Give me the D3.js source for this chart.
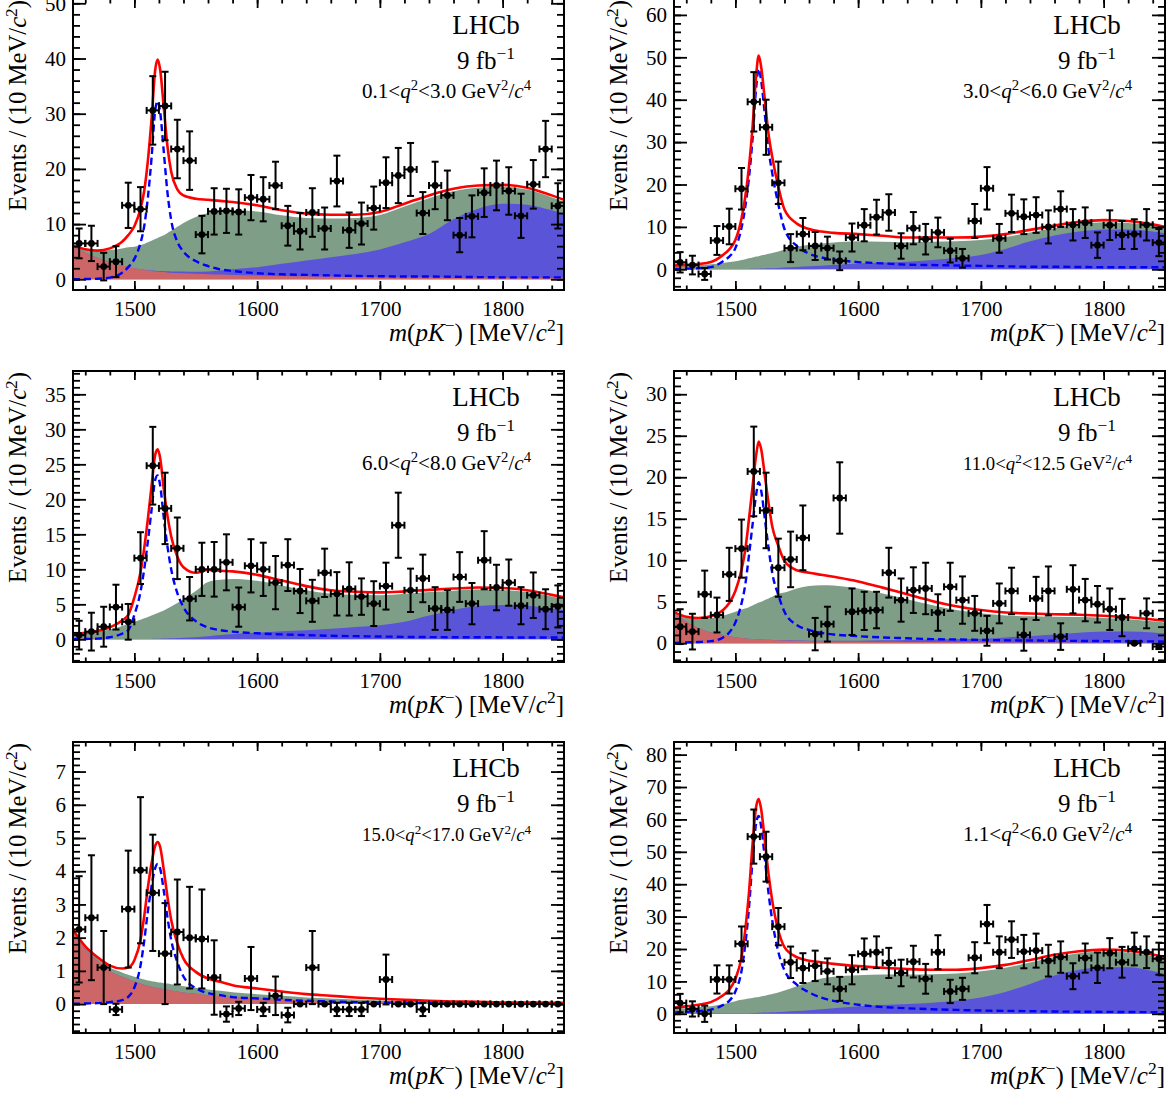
<!DOCTYPE html>
<html lang="en">
<head>
  <meta charset="UTF-8">
  <title>m(pK-) fits in q2 bins</title>
  <script src="https://d3js.org/d3.v7.min.js"></script>
  <style>
    body {
      margin: 0;
      background-color: white;
    }
    svg {
      display: block;
      font-family: "Liberation Serif", "DejaVu Serif", serif;
    }
    .tick line {
      stroke-width: 1.8px;
    }
  </style>
</head>
<body>
  <div id="chart"></div>

  <script>
    // bin centres of the 10 MeV histogram
    const binCenters = [1455, 1465, 1475, 1485, 1495, 1505, 1515, 1525, 1535, 1545,
      1555, 1565, 1575, 1585, 1595, 1605, 1615, 1625, 1635, 1645,
      1655, 1665, 1675, 1685, 1695, 1705, 1715, 1725, 1735, 1745,
      1755, 1765, 1775, 1785, 1795, 1805, 1815, 1825, 1835, 1845];
    const curveMass = [1450, 1460, 1470, 1480, 1490, 1495, 1500, 1505, 1508, 1511, 1514, 1517, 1519, 1521,
      1524, 1527, 1530, 1535, 1540, 1550, 1560, 1570, 1580, 1600, 1620, 1640, 1660, 1680,
      1700, 1720, 1740, 1760, 1780, 1800, 1820, 1840, 1850];
    const massTicks = [1500, 1600, 1700, 1800];
    const q2Low = ["0.1", "3.0", "6.0", "11.0", "15.0", "1.1"];
    const q2High = ["3.0", "6.0", "8.0", "12.5", "17.0", "6.0"];
    const yMajorStep = [10, 10, 5, 5, 1, 10];
    const yMinorStep = [2, 2, 1, 1, 0.2, 2];

    // panel 1: 0.1 < q2 < 3.0
    const p1Counts = [6.5, 6.5, 2.3, 3.2, 13.4, 12.7, 30.6, 31.4, 23.6, 21.5, 8.1, 12.3, 12.4, 12.2, 14.8, 14.5, 17.0, 9.7, 8.7, 12.1,
      9.2, 17.8, 8.9, 10.1, 12.9, 17.5, 18.8, 19.9, 12.0, 17.0, 15.2, 8.0, 11.4, 15.7, 17.0, 16.0, 11.5, 17.2, 23.6, 13.3];
    const p1Errors = [2.7, 3.2, 2.5, 2.8, 4.1, 4.0, 6.2, 6.2, 5.3, 5.3, 3.4, 4.2, 4.0, 4.1, 4.1, 4.0, 4.3, 3.6, 3.3, 4.4,
      3.8, 4.6, 3.2, 3.8, 3.9, 4.6, 5.0, 4.8, 3.8, 4.3, 4.5, 3.1, 3.8, 4.4, 4.5, 4.3, 4.0, 4.4, 5.1, 4.1];
    const p1RedTop = [5.9, 4.8, 3.9, 3.1, 2.5, 2.2, 2.0, 1.8, 1.7, 1.6, 1.5, 1.45, 1.4, 1.35, 1.3, 1.25, 1.2, 1.15, 1.1, 1.0,
      0.9, 0.85, 0.8, 0.7, 0.6, 0.55, 0.5, 0.45, 0.4, 0.35, 0.35, 0.3, 0.3, 0.3, 0.25, 0.25, 0.25];
    const p1BlueTop = [5.9, 4.8, 3.9, 3.1, 2.5, 2.2, 2.0, 1.8, 1.72, 1.65, 1.58, 1.55, 1.52, 1.49, 1.47, 1.45, 1.42, 1.4, 1.4, 1.35,
      1.4, 1.6, 1.8, 2.2, 2.8, 3.4, 4.0, 4.6, 5.4, 6.7, 8.2, 10.9, 12.8, 13.7, 13.5, 12.5, 11.9];
    const p1GreenTop = [6.1, 5.4, 5.1, 5.3, 5.6, 5.8, 5.9, 6.2, 6.4, 6.7, 7.0, 7.3, 7.5, 7.7, 8.0, 8.4, 8.8, 9.5, 10.2, 11.3,
      12.0, 12.4, 12.5, 12.3, 11.6, 11.1, 11.0, 11.1, 11.65, 13.2, 14.7, 15.95, 16.6, 16.75, 16.25, 14.85, 14.05];
    const p1Signal = [0.0, 0.05, 0.1, 0.3, 1.2, 2.2, 3.7, 6.6, 9.6, 14.8, 22.0, 30.7, 32.3, 30.3, 23.0, 15.6, 10.7, 6.8, 5.0, 3.3,
      2.4, 1.8, 1.5, 1.1, 0.9, 0.8, 0.7, 0.6, 0.55, 0.5, 0.5, 0.45, 0.4, 0.35, 0.35, 0.35, 0.35];

    // panel 2: 3.0 < q2 < 6.0
    const p2Counts = [1.65, 1.0, -1.1, 6.8, 10.1, 19.0, 39.5, 33.5, 20.4, 5.0, 8.3, 5.5, 5.0, 2.0, 7.5, 10.4, 12.3, 13.4, 5.5, 9.7,
      7.1, 8.7, 4.4, 2.6, 11.4, 19.1, 7.3, 13.2, 12.4, 12.8, 10.0, 14.2, 10.5, 11.0, 5.7, 10.4, 8.1, 8.3, 10.5, 6.3];
    const p2Errors = [2.4, 2.2, 1.4, 3.4, 4.2, 4.9, 7.0, 6.5, 5.0, 3.3, 3.8, 3.3, 2.7, 2.2, 3.3, 3.8, 4.1, 4.3, 3.0, 3.8,
      3.6, 3.5, 2.8, 2.2, 4.0, 5.0, 3.4, 4.4, 4.1, 4.2, 3.9, 4.2, 3.7, 3.6, 3.0, 3.5, 3.3, 3.5, 3.7, 3.2];
    const p2RedTop = [0.15, 0.13, 0.11, 0.1, 0.09, 0.08, 0.08, 0.07, 0.07, 0.07, 0.06, 0.06, 0.06, 0.06, 0.06, 0.06, 0.05, 0.05, 0.05, 0.05,
      0.05, 0.04, 0.04, 0.04, 0.04, 0.03, 0.03, 0.03, 0.03, 0.03, 0.03, 0.02, 0.02, 0.02, 0.02, 0.02, 0.02];
    const p2BlueTop = [0.15, 0.13, 0.11, 0.1, 0.09, 0.08, 0.08, 0.08, 0.09, 0.1, 0.12, 0.14, 0.16, 0.18, 0.2, 0.23, 0.26, 0.32, 0.4, 0.55,
      0.7, 0.85, 1.0, 1.35, 1.6, 1.8, 2.2, 2.7, 3.4, 4.8, 6.6, 8.0, 8.9, 9.4, 9.4, 8.9, 8.5];
    const p2GreenTop = [0.8, 0.9, 1.0, 1.2, 1.5, 1.7, 1.9, 2.2, 2.4, 2.6, 2.8, 3.0, 3.1, 3.25, 3.45, 3.65, 3.85, 4.2, 4.6, 5.3,
      5.8, 6.1, 6.3, 6.6, 6.5, 6.4, 6.5, 6.6, 6.9, 7.6, 8.7, 9.7, 10.65, 11.1, 10.9, 10.1, 9.5];
    const p2Signal = [0.1, 0.15, 0.25, 0.5, 1.9, 3.0, 5.0, 9.8, 14.6, 21.4, 30.8, 43.0, 47.3, 44.5, 36.5, 28.3, 22.7, 15.3, 9.5, 5.5,
      3.7, 2.8, 2.3, 1.7, 1.4, 1.1, 1.0, 0.9, 0.8, 0.7, 0.6, 0.6, 0.55, 0.5, 0.5, 0.5, 0.5];

    // panel 3: 6.0 < q2 < 8.0
    const p3Counts = [0.6, 1.1, 1.8, 4.6, 2.5, 11.6, 24.8, 18.7, 13.0, 5.8, 10.0, 10.0, 11.0, 4.6, 10.5, 10.0, 8.1, 10.6, 6.9, 5.5,
      9.5, 6.5, 7.2, 6.1, 5.1, 7.6, 16.3, 7.0, 8.7, 4.4, 4.2, 8.9, 5.1, 11.3, 7.4, 8.1, 4.8, 6.3, 4.3, 4.7];
    const p3Errors = [2.05, 2.7, 2.85, 3.2, 2.55, 3.7, 5.55, 5.1, 4.4, 3.1, 3.8, 3.9, 4.0, 2.8, 3.8, 3.8, 3.8, 3.7, 3.15, 3.0,
      3.45, 3.1, 3.8, 2.6, 3.2, 3.35, 4.65, 3.1, 3.4, 3.05, 2.85, 3.55, 2.95, 4.15, 3.25, 3.3, 2.65, 3.25, 2.85, 3.0];
    const p3RedTop = [0.1, 0.08, 0.07, 0.06, 0.05, 0.05, 0.05, 0.04, 0.04, 0.04, 0.04, 0.04, 0.04, 0.04, 0.03, 0.03, 0.03, 0.03, 0.03, 0.03,
      0.03, 0.02, 0.02, 0.02, 0.02, 0.02, 0.02, 0.02, 0.02, 0.02, 0.02, 0.02, 0.02, 0.02, 0.02, 0.02, 0.02];
    const p3BlueTop = [0.1, 0.08, 0.07, 0.06, 0.05, 0.05, 0.05, 0.05, 0.05, 0.05, 0.06, 0.07, 0.08, 0.09, 0.1, 0.12, 0.14, 0.18, 0.22, 0.3,
      0.45, 0.6, 0.75, 0.95, 1.15, 1.3, 1.5, 1.75, 2.0, 2.5, 3.4, 4.2, 4.75, 4.9, 4.8, 4.4, 4.2];
    const p3GreenTop = [0.7, 0.9, 1.1, 1.4, 1.9, 2.2, 2.5, 2.8, 3.0, 3.2, 3.4, 3.6, 3.75, 3.9, 4.1, 4.4, 4.7, 5.2, 5.7, 6.9,
      8.2, 8.5, 8.6, 8.35, 7.7, 7.0, 6.5, 6.35, 6.3, 6.5, 6.75, 6.95, 7.1, 7.05, 6.75, 6.1, 5.75];
    const p3Signal = [0.02, 0.05, 0.1, 0.3, 0.8, 1.3, 3.5, 6.8, 10.0, 14.0, 18.5, 22.8, 23.4, 22.0, 17.3, 13.2, 10.0, 6.6, 4.6, 2.6,
      1.7, 1.3, 1.1, 0.86, 0.7, 0.6, 0.5, 0.45, 0.4, 0.35, 0.32, 0.3, 0.3, 0.28, 0.26, 0.25, 0.25];

    // panel 4: 11.0 < q2 < 12.5
    const p4Counts = [2.0, 1.4, 5.9, 3.4, 8.3, 11.4, 20.7, 16.0, 9.1, 10.1, 12.7, 1.1, 2.3, 17.5, 3.8, 3.9, 4.0, 8.5, 5.2, 6.4,
      6.6, 3.7, 6.8, 5.2, 3.6, 1.5, 4.8, 6.3, 1.0, 5.4, 6.3, 0.8, 6.5, 5.2, 4.7, 4.1, 3.1, 0.0, 3.6, -0.4];
    const p4Errors = [2.1, 2.15, 2.85, 2.1, 3.2, 3.5, 5.4, 4.55, 3.5, 3.35, 3.9, 1.95, 2.1, 4.3, 2.8, 2.3, 2.2, 3.0, 2.6, 2.75,
      3.1, 2.2, 2.9, 2.85, 2.1, 1.8, 2.4, 2.8, 1.9, 2.6, 2.95, 1.6, 2.9, 2.55, 2.2, 2.5, 2.25, 0.1, 1.8, 0.3];
    const p4RedTop = [3.6, 2.6, 1.8, 1.3, 1.0, 0.85, 0.72, 0.63, 0.58, 0.54, 0.5, 0.48, 0.46, 0.45, 0.43, 0.41, 0.39, 0.36, 0.33, 0.3,
      0.27, 0.24, 0.22, 0.2, 0.17, 0.15, 0.14, 0.13, 0.12, 0.1, 0.09, 0.08, 0.07, 0.06, 0.06, 0.05, 0.05];
    const p4BlueTop = [3.6, 2.6, 1.8, 1.3, 1.0, 0.85, 0.72, 0.63, 0.58, 0.54, 0.5, 0.48, 0.46, 0.45, 0.43, 0.41, 0.39, 0.36, 0.35, 0.32,
      0.3, 0.29, 0.29, 0.3, 0.35, 0.4, 0.45, 0.5, 0.55, 0.7, 0.85, 1.05, 1.25, 1.4, 1.4, 1.3, 1.2];
    const p4GreenTop = [3.7, 3.1, 2.9, 3.0, 3.3, 3.55, 3.8, 4.05, 4.2, 4.35, 4.55, 4.75, 4.9, 5.0, 5.2, 5.4, 5.6, 5.95, 6.1, 6.6,
      6.9, 7.0, 6.95, 6.6, 6.0, 5.3, 4.6, 4.0, 3.6, 3.35, 3.25, 3.2, 3.15, 3.05, 2.9, 2.65, 2.5];
    const p4Signal = [0.05, 0.1, 0.15, 0.25, 0.7, 1.3, 2.5, 4.8, 7.0, 10.5, 14.3, 18.0, 19.4, 18.4, 15.0, 11.5, 8.5, 5.8, 3.8, 2.2,
      1.6, 1.25, 1.05, 0.85, 0.7, 0.6, 0.5, 0.45, 0.4, 0.35, 0.33, 0.3, 0.28, 0.26, 0.24, 0.22, 0.2];

    // panel 5: 15.0 < q2 < 17.0
    const p5Counts = [2.25, 2.6, 1.1, -0.16, 2.86, 4.03, 3.35, 1.52, 2.17, 2.0, 1.96, 0.8, -0.3, -0.13, 0.77, -0.16, 0.25, -0.33, 0.0, 1.1,
      0.0, -0.16, -0.16, -0.16, 0.0, 0.74, 0.0, 0.0, -0.16, 0.0, 0.0, 0.0, 0.0, 0.0, 0.0, 0.0, 0.0, 0.0, 0.0, 0.0];
    const p5Errors = [1.6, 1.88, 1.1, 0.17, 1.76, 2.2, 1.75, 1.52, 1.58, 1.53, 1.49, 1.12, 0.23, 0.2, 0.95, 0.2, 0.58, 0.22, 0, 1.1,
      0, 0.2, 0.2, 0.2, 0, 0.75, 0, 0, 0.2, 0, 0, 0, 0, 0, 0, 0, 0, 0, 0, 0];
    const p5RedTop = [2.15, 1.65, 1.3, 1.0, 0.82, 0.75, 0.68, 0.62, 0.58, 0.55, 0.52, 0.5, 0.48, 0.47, 0.45, 0.43, 0.41, 0.38, 0.35, 0.31,
      0.27, 0.24, 0.21, 0.17, 0.14, 0.11, 0.09, 0.08, 0.06, 0.05, 0.04, 0.03, 0.03, 0.02, 0.02, 0.02, 0.02];
    const p5BlueTop = [2.15, 1.65, 1.3, 1.0, 0.82, 0.75, 0.68, 0.62, 0.58, 0.55, 0.52, 0.5, 0.48, 0.47, 0.45, 0.43, 0.41, 0.38, 0.35, 0.31,
      0.27, 0.24, 0.21, 0.17, 0.14, 0.11, 0.09, 0.08, 0.06, 0.05, 0.04, 0.03, 0.03, 0.02, 0.02, 0.02, 0.02];
    const p5GreenTop = [2.22, 1.72, 1.38, 1.1, 0.95, 0.88, 0.82, 0.77, 0.74, 0.71, 0.69, 0.67, 0.66, 0.65, 0.63, 0.62, 0.6, 0.57, 0.54, 0.49,
      0.44, 0.4, 0.36, 0.3, 0.25, 0.2, 0.17, 0.14, 0.11, 0.09, 0.07, 0.06, 0.05, 0.04, 0.04, 0.03, 0.03];
    const p5Signal = [0.01, 0.02, 0.03, 0.06, 0.12, 0.22, 0.5, 1.16, 1.9, 2.8, 3.55, 4.1, 4.22, 4.08, 3.4, 2.6, 1.93, 1.26, 0.83, 0.48,
      0.33, 0.27, 0.21, 0.17, 0.13, 0.1, 0.08, 0.06, 0.05, 0.04, 0.03, 0.02, 0.02, 0.01, 0.01, 0.01, 0.01];

    // panel 6: 1.1 < q2 < 6.0
    const p6Counts = [3.3, 1.5, 0.0, 10.6, 10.6, 21.6, 54.7, 48.5, 26.9, 15.9, 14.1, 14.8, 13.1, 7.7, 13.6, 18.5, 19.0, 15.7, 12.6, 16.1,
      10.8, 19.0, 6.9, 7.7, 17.3, 27.7, 19.0, 22.9, 19.2, 19.5, 16.4, 17.5, 11.6, 17.2, 14.2, 18.7, 15.9, 20.0, 19.0, 17.0];
    const p6Errors = [2.85, 2.35, 2.5, 4.35, 4.35, 5.35, 8.35, 7.7, 5.75, 4.85, 4.6, 4.7, 4.0, 3.7, 4.5, 4.75, 4.9, 4.65, 4.1, 4.9,
      4.6, 5.25, 3.6, 3.4, 4.8, 5.9, 4.9, 5.65, 5.15, 5.25, 4.9, 4.85, 4.0, 4.5, 4.7, 4.65, 4.75, 5.05, 4.9, 4.95];
    const p6RedTop = [0.4, 0.32, 0.26, 0.21, 0.17, 0.16, 0.15, 0.14, 0.13, 0.13, 0.12, 0.12, 0.12, 0.11, 0.11, 0.11, 0.1, 0.1, 0.1, 0.09,
      0.09, 0.08, 0.08, 0.07, 0.07, 0.06, 0.06, 0.06, 0.05, 0.05, 0.05, 0.05, 0.05, 0.04, 0.04, 0.04, 0.04];
    const p6BlueTop = [0.4, 0.32, 0.26, 0.21, 0.17, 0.16, 0.15, 0.15, 0.16, 0.18, 0.22, 0.26, 0.3, 0.33, 0.38, 0.43, 0.48, 0.57, 0.66, 0.85,
      1.1, 1.4, 1.7, 2.3, 2.7, 3.0, 3.4, 4.0, 5.0, 6.7, 9.2, 11.8, 13.6, 14.4, 14.4, 13.2, 12.3];
    const p6GreenTop = [1.5, 1.7, 2.0, 2.3, 3.0, 3.4, 3.9, 4.3, 4.5, 4.7, 4.9, 5.1, 5.2, 5.35, 5.6, 5.85, 6.1, 6.6, 7.2, 8.5,
      9.8, 10.9, 11.4, 11.9, 12.1, 12.1, 12.2, 12.4, 13.1, 14.2, 15.8, 17.5, 18.65, 19.2, 18.95, 17.8, 17.0];
    const p6Signal = [0.35, 0.6, 0.8, 1.3, 2.7, 4.0, 6.9, 13.2, 21.2, 32.3, 47.5, 59.0, 61.1, 57.8, 47.9, 37.3, 28.9, 19.1, 13.4, 9.0,
      6.6, 5.0, 4.0, 2.8, 2.1, 1.7, 1.4, 1.2, 1.0, 0.9, 0.8, 0.7, 0.65, 0.6, 0.55, 0.5, 0.5];

    const panels = [
      { counts: p1Counts, errors: p1Errors, red: p1RedTop, blue: p1BlueTop, green: p1GreenTop, signal: p1Signal },
      { counts: p2Counts, errors: p2Errors, red: p2RedTop, blue: p2BlueTop, green: p2GreenTop, signal: p2Signal },
      { counts: p3Counts, errors: p3Errors, red: p3RedTop, blue: p3BlueTop, green: p3GreenTop, signal: p3Signal },
      { counts: p4Counts, errors: p4Errors, red: p4RedTop, blue: p4BlueTop, green: p4GreenTop, signal: p4Signal },
      { counts: p5Counts, errors: p5Errors, red: p5RedTop, blue: p5BlueTop, green: p5GreenTop, signal: p5Signal },
      { counts: p6Counts, errors: p6Errors, red: p6RedTop, blue: p6BlueTop, green: p6GreenTop, signal: p6Signal }
    ];

    // layout (pixels) and axis ranges
    const width = 1173, height = 1094;
    const colLeft = [73, 674], rowTop = [-1, 371, 742];
    const frameW = 491, frameH = 291;
    const yDomains = [[-1.94, 50.78], [-4.88, 63.75], [-3.24, 38.33], [-2.26, 32.8], [-0.87, 7.89], [-5.93, 83.9]];
    const fillRed = "#cd6767", fillBlue = "#5a55d8", fillGreen = "#7f9e88";
    const serif = '"Liberation Serif", "DejaVu Serif", serif';

    const svg = d3.select("#chart")
      .append("svg")
      .attr("width", width)
      .attr("height", height)
      .style("background", "white");

    // text made of pieces: "" plain, "i" italic, "sup" superscript
    function richText(sel, parts) {
      let raised = false;
      parts.forEach(([str, kind]) => {
        const t = sel.append("tspan").text(str);
        if (kind === "i") t.style("font-style", "italic");
        if (kind === "sup") {
          t.attr("font-size", "70%").attr("dy", "-0.55em");
          raised = true;
        } else if (raised) {
          t.attr("dy", "0.385em");
          raised = false;
        }
      });
      return sel;
    }

    // scale the font so the text takes a given length
    function fitLength(sel, base, target) {
      sel.attr("font-size", base);
      const len = sel.node().getComputedTextLength();
      if (len > 0) sel.attr("font-size", base * target / len);
    }

    function multiples(lo, hi, step) {
      const out = [];
      for (let k = Math.ceil(lo / step - 1e-6); k * step <= hi + 1e-9; k++) out.push(+(k * step).toFixed(4));
      return out;
    }

    panels.forEach((p, i) => {
      const x0 = colLeft[i % 2], y0 = rowTop[Math.floor(i / 2)];
      const x = d3.scaleLinear().domain([1450, 1850]).range([x0, x0 + frameW]);
      const y = d3.scaleLinear().domain(yDomains[i]).range([y0 + frameH, y0]);

      svg.append("clipPath").attr("id", "clip" + i)
        .append("rect")
        .attr("x", x0).attr("y", y0)
        .attr("width", frameW).attr("height", frameH);

      const plot = svg.append("g").attr("clip-path", `url(#clip${i})`);

      const fit = curveMass.map((m, k) => ({
        m: m, r: p.red[k], b: p.blue[k], g: p.green[k], s: p.signal[k]
      }));

      const area = key => d3.area()
        .x(d => x(d.m))
        .y0(y(0))
        .y1(d => y(d[key]))
        .curve(d3.curveMonotoneX);

      // stacked backgrounds, drawn from the top of the stack down
      plot.append("path").datum(fit).attr("d", area("g")).attr("fill", fillGreen);
      plot.append("path").datum(fit).attr("d", area("b")).attr("fill", fillBlue);
      plot.append("path").datum(fit).attr("d", area("r")).attr("fill", fillRed);

      plot.append("path").datum(fit)
        .attr("d", d3.line().x(d => x(d.m)).y(d => y(d.s)).curve(d3.curveMonotoneX))
        .attr("fill", "none")
        .attr("stroke", "#0000ff")
        .attr("stroke-width", 2.4)
        .attr("stroke-dasharray", "7,4");

      plot.append("path").datum(fit)
        .attr("d", d3.line().x(d => x(d.m)).y(d => y(d.g + d.s)).curve(d3.curveMonotoneX))
        .attr("fill", "none")
        .attr("stroke", "#ff0000")
        .attr("stroke-width", 2.6);

      // data points with error bars
      const pts = binCenters.map((c, k) => ({ c: c, v: p.counts[k], e: p.errors[k] }));
      const cap = 3.5;
      const pg = plot.append("g").attr("stroke", "black").attr("stroke-width", 2);
      pts.forEach(d => {
        const cx = x(d.c), cy = y(d.v);
        const xl = x(d.c - 5), xr = x(d.c + 5);
        pg.append("line").attr("x1", xl).attr("x2", xr).attr("y1", cy).attr("y2", cy);
        pg.append("line").attr("x1", xl).attr("x2", xl).attr("y1", cy - cap).attr("y2", cy + cap);
        pg.append("line").attr("x1", xr).attr("x2", xr).attr("y1", cy - cap).attr("y2", cy + cap);
        if (d.e > 0) {
          const yt = y(d.v + d.e), yb = y(d.v - d.e);
          pg.append("line").attr("x1", cx).attr("x2", cx).attr("y1", yt).attr("y2", yb);
          pg.append("line").attr("x1", cx - cap).attr("x2", cx + cap).attr("y1", yt).attr("y2", yt);
          pg.append("line").attr("x1", cx - cap).attr("x2", cx + cap).attr("y1", yb).attr("y2", yb);
        }
      });
      plot.append("g").selectAll("circle")
        .data(pts)
        .join("circle")
        .attr("cx", d => x(d.c))
        .attr("cy", d => y(d.v))
        .attr("r", 3.4)
        .attr("fill", "black");

      // ROOT style ticks on all four sides
      const yMajor = multiples(0, yDomains[i][1], yMajorStep[i]);
      const yMinor = multiples(yDomains[i][0], yDomains[i][1], yMinorStep[i]);
      const xMinor = x.ticks(20);
      const axes = [
        { a: d3.axisBottom(x).tickValues(massTicks).tickSizeInner(-9).tickPadding(11).tickFormat(d3.format("d")), t: `translate(0,${y0 + frameH})` },
        { a: d3.axisBottom(x).tickValues(xMinor).tickSizeInner(-4.5).tickFormat(""), t: `translate(0,${y0 + frameH})` },
        { a: d3.axisTop(x).tickValues(massTicks).tickSizeInner(-9).tickFormat(""), t: `translate(0,${y0})` },
        { a: d3.axisTop(x).tickValues(xMinor).tickSizeInner(-4.5).tickFormat(""), t: `translate(0,${y0})` },
        { a: d3.axisLeft(y).tickValues(yMajor).tickSizeInner(-13).tickPadding(7).tickFormat(d3.format("d")), t: `translate(${x0},0)` },
        { a: d3.axisLeft(y).tickValues(yMinor).tickSizeInner(-7).tickFormat(""), t: `translate(${x0},0)` },
        { a: d3.axisRight(y).tickValues(yMajor).tickSizeInner(-13).tickFormat(""), t: `translate(${x0 + frameW},0)` },
        { a: d3.axisRight(y).tickValues(yMinor).tickSizeInner(-7).tickFormat(""), t: `translate(${x0 + frameW},0)` }
      ];
      axes.forEach(ax => {
        const g = svg.append("g")
          .attr("transform", ax.t)
          .call(ax.a.tickSizeOuter(0));
        g.attr("font-size", 21).attr("font-family", serif);
        g.select(".domain").remove();
        g.selectAll("text").attr("fill", "black");
      });

      svg.append("rect")
        .attr("x", x0).attr("y", y0)
        .attr("width", frameW).attr("height", frameH)
        .attr("fill", "none")
        .attr("stroke", "black")
        .attr("stroke-width", 2);

      // labels
      const cxLabel = x0 + frameW - 78;
      svg.append("text")
        .attr("x", cxLabel).attr("y", y0 + 35)
        .attr("text-anchor", "middle")
        .attr("font-size", 27)
        .text("LHCb");

      richText(svg.append("text")
        .attr("x", cxLabel).attr("y", y0 + 70)
        .attr("text-anchor", "middle")
        .attr("font-size", 25), [["9 fb", ""], ["\u22121", "sup"]]);

      const q2 = richText(svg.append("text")
        .attr("x", x0 + frameW - 33).attr("y", y0 + 99)
        .attr("text-anchor", "end"),
        [[q2Low[i] + "<", ""], ["q", "i"], ["2", "sup"], ["<" + q2High[i] + " GeV", ""], ["2", "sup"], ["/", ""], ["c", "i"], ["4", "sup"]]);
      fitLength(q2, 17, 169);

      const xt = richText(svg.append("text")
        .attr("x", x0 + frameW).attr("y", y0 + frameH + 51)
        .attr("text-anchor", "end"),
        [["m", "i"], ["(", ""], ["pK", "i"], ["\u2212", "sup"], [") [MeV/", ""], ["c", "i"], ["2", "sup"], ["]", ""]]);
      fitLength(xt, 22, 175);

      const yt = richText(svg.append("text")
        .attr("transform", `translate(${x0 - 47},${y0 + 1}) rotate(-90)`)
        .attr("text-anchor", "end"),
        [["Events / (10 MeV/", ""], ["c", "i"], ["2", "sup"], [")", ""]]);
      fitLength(yt, 22, 211);
    });
  </script>
</body>
</html>
